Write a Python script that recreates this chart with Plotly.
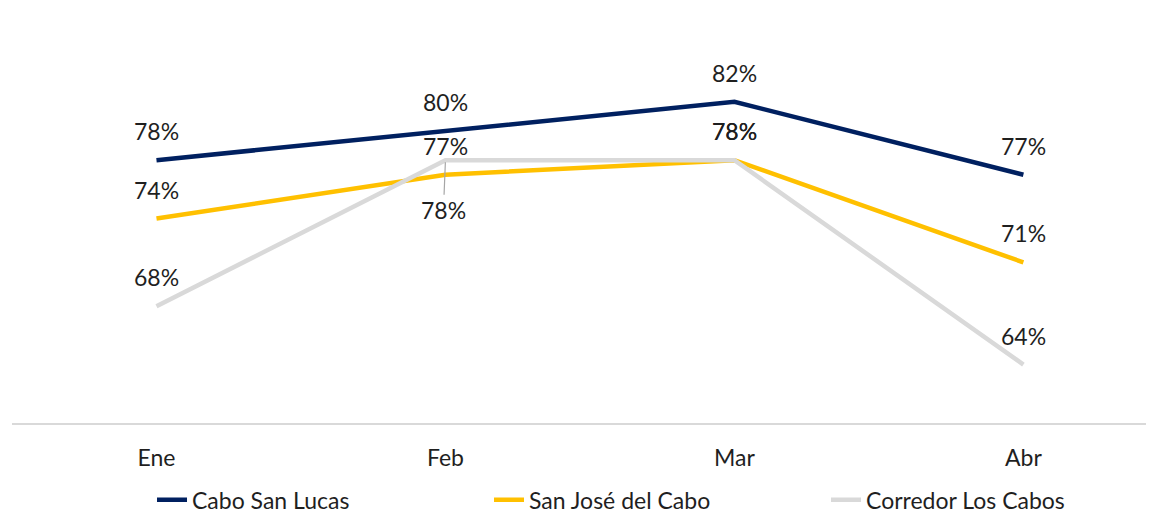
import plotly.graph_objects as go

months = ["Ene", "Feb", "Mar", "Abr"]
series_names = ["Cabo San Lucas", "San José del Cabo", "Corredor Los Cabos"]
cabo_san_lucas = [78, 80, 82, 77]
san_jose = [74, 77, 78, 71]
corredor = [68, 78, 78, 64]
colors = ["#002060", "#FFC000", "#D9D9D9"]

all_values = [cabo_san_lucas, san_jose, corredor]
FONT = "Lato, Carlito, Calibri, sans-serif"
TXT = "#1f1f1f"

fig = go.Figure()
for name, vals, col in zip(series_names, all_values, colors):
    fig.add_trace(go.Scatter(
        x=months, y=vals, name=name, mode="lines",
        line=dict(color=col, width=4.5),
        hoverinfo="x+y+name",
    ))

annotations = []
for si, vals in enumerate(all_values):
    for i, (m, v) in enumerate(zip(months, vals)):
        if si == 2 and m == "Feb":
            annotations.append(dict(
                x=m, y=v, xref="x", yref="y", text=f"{v}%",
                showarrow=True, arrowhead=0, arrowwidth=1.2, arrowcolor="#A6A6A6",
                ax=-2, ay=50, standoff=2, startstandoff=0,
                font=dict(family=FONT, size=23, color=TXT),
            ))
            continue
        annotations.append(dict(
            x=m, y=v, xref="x", yref="y", text=f"{v}%",
            showarrow=False, yshift=29,
            font=dict(family=FONT, size=23, color=TXT),
        ))

fig.update_layout(
    width=1146, height=507,
    margin=dict(l=4, r=0, t=12, b=92, autoexpand=False),
    paper_bgcolor="white", plot_bgcolor="white",
    font=dict(family=FONT, size=23, color=TXT),
    xaxis=dict(
        type="category", range=[-0.5, 3.452],
        showgrid=False, zeroline=False,
        showline=True, linecolor="#D9D9D9", linewidth=1.5,
        ticks="", ticklabelstandoff=14,
        tickfont=dict(family=FONT, size=23, color=TXT),
    ),
    yaxis=dict(
        range=[60, 87.6], visible=False, showgrid=False, zeroline=False,
    ),
    showlegend=True,
    legend=dict(
        orientation="h", x=0.1226, xanchor="left", y=-0.137, yanchor="top",
        font=dict(family=FONT, size=23, color=TXT),
        entrywidth=292, entrywidthmode="pixels",
        bgcolor="rgba(0,0,0,0)",
    ),
    annotations=annotations,
)

fig.write_html("out.html")
